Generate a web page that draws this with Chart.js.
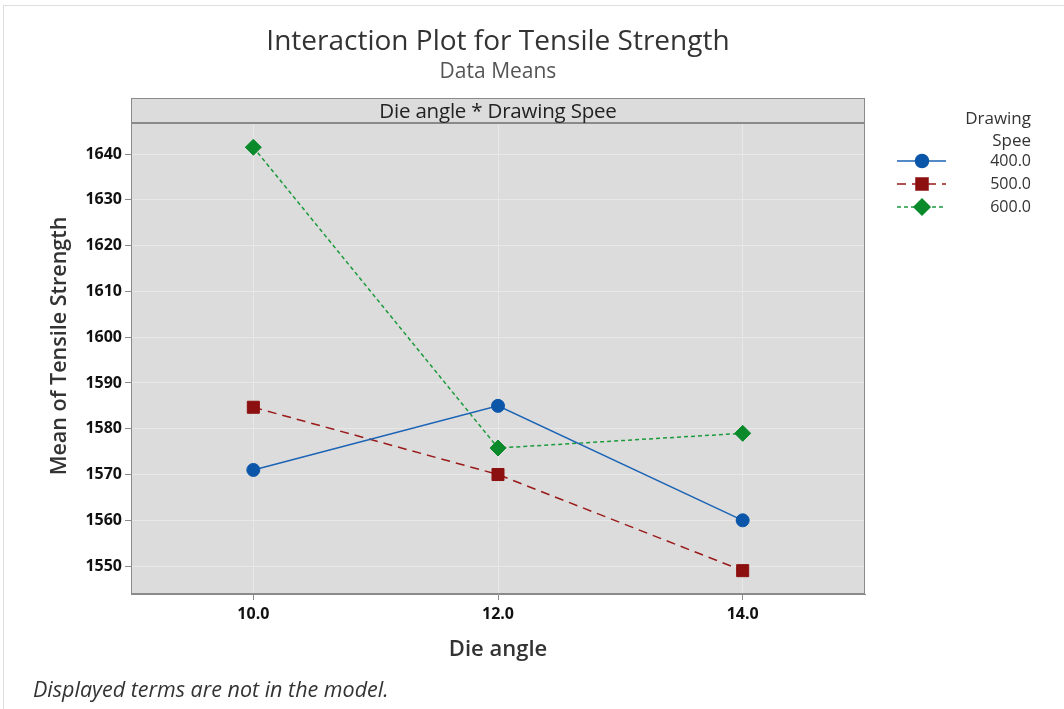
<!DOCTYPE html>
<html>
<head>
<meta charset="utf-8">
<script src="https://cdn.jsdelivr.net/npm/chart.js@4/dist/chart.umd.min.js"></script>
<style>
    body { margin: 0; background: #fff; }
    #wrap { position: relative; width: 1064px; height: 709px; font-family: 'Open Sans', sans-serif; color: #333; }
    #frame { position: absolute; left: 3px; top: 5px; width: 1060px; height: 703px; border-left: 1px solid #ddd; border-top: 1px solid #ddd; }
    #title { position: absolute; left: 131px; width: 734px; top: 20px; text-align: center; font-size: 28px; line-height: 38px; }
    #subtitle { position: absolute; left: 131px; width: 734px; top: 56px; text-align: center; font-size: 21px; line-height: 28px; color: #555; }
    #strip { position: absolute; left: 131px; width: 734px; top: 98px; text-align: center; font-size: 20.5px; line-height: 25px; color: #222; letter-spacing: -0.2px; }
    #ytitle { position: absolute; left: 58px; top: 346px; width: 400px; margin-left: -200px; margin-top: -15px; line-height: 30px;
              text-align: center; font-size: 21.5px; font-weight: 600; transform: rotate(-90deg); }
    #footer { position: absolute; left: 33px; top: 675px; font-size: 21.5px; line-height: 28px; font-style: italic; }
    canvas { position: absolute; left: 0; top: 0; }
</style>
</head>
<body>
<div id="wrap">
    <div id="frame"></div>
    <canvas id="chart" width="1064" height="709"></canvas>
    <div id="title">Interaction Plot for Tensile Strength</div>
    <div id="subtitle">Data Means</div>
    <div id="strip">Die angle * Drawing Spee</div>
    <div id="ytitle">Mean of Tensile Strength</div>
    <div id="footer">Displayed terms are not in the model.</div>
</div>
<script>
// --- Data ---
const dieAngles = [10, 12, 14];
const speedLabels = ['400.0', '500.0', '600.0'];
const speed400 = [1571, 1585, 1560];
const speed500 = [1584.7, 1570, 1549];
const speed600 = [1641.5, 1575.8, 1579];
const yTicks = [1550, 1560, 1570, 1580, 1590, 1600, 1610, 1620, 1630, 1640];
const xTicks = [10, 12, 14];

const toPoints = vals => dieAngles.map((x, i) => ({ x: x, y: vals[i] }));

const series = [
    { values: speed400, color: '#1a63b5', marker: '#0b56a8', style: 'circle', radius: 6.5, dash: [] },
    { values: speed500, color: '#9a1a1a', marker: '#8c1010', style: 'rect', radius: 8.5, dash: [9, 6] },
    { values: speed600, color: '#1c9a3c', marker: '#0a8a2a', style: 'rectRot', radius: 8, dash: [4, 3] }
];

// --- Background, strip box and legend ---
const panelPlugin = {
    id: 'panel',
    beforeDraw(chart) {
        const { ctx, chartArea: a } = chart;
        ctx.save();
        ctx.fillStyle = '#dcdcdc';
        ctx.fillRect(a.left, a.top, a.right - a.left, a.bottom - a.top);
        ctx.fillRect(a.left, a.top - 25, a.right - a.left, 25);
        ctx.strokeStyle = '#8a8a8a';
        ctx.lineWidth = 1;
        ctx.strokeRect(a.left + 0.5, a.top - 24.5, a.right - a.left - 1, 24);
        ctx.restore();
    },
    beforeDatasetsDraw(chart) {
        const { ctx, chartArea: a } = chart;
        ctx.save();
        ctx.strokeStyle = '#8a8a8a';
        ctx.lineWidth = 1;
        ctx.strokeRect(a.left + 0.5, a.top + 0.5, a.right - a.left - 1, a.bottom - a.top - 1);
        ctx.restore();
    },
    afterDraw(chart) {
        const { ctx } = chart;
        ctx.save();
        ctx.font = '17px "Open Sans"';
        ctx.fillStyle = '#333';
        ctx.textAlign = 'right';
        ctx.textBaseline = 'middle';
        ctx.fillText('Drawing', 1031, 119);
        ctx.fillText('Spee', 1031, 141);
        ctx.font = '16px "Open Sans"';
        chart.data.datasets.forEach((ds, i) => {
            const y = 161 + i * 23;
            ctx.strokeStyle = ds.borderColor;
            ctx.lineWidth = 1.5;
            ctx.setLineDash(ds.borderDash);
            ctx.beginPath();
            ctx.moveTo(897, y);
            ctx.lineTo(946, y);
            ctx.stroke();
            ctx.setLineDash([]);
            ctx.fillStyle = ds.pointBackgroundColor;
            ctx.strokeStyle = ds.pointBorderColor;
            Chart.helpers.drawPoint(ctx, { pointStyle: ds.pointStyle, radius: ds.pointRadius, rotation: 0, borderWidth: 1 }, 922, y);
            ctx.fillStyle = '#333';
            ctx.fillText(ds.label, 1031, y);
        });
        ctx.restore();
    }
};

new Chart(document.getElementById('chart'), {
    type: 'line',
    data: {
        datasets: series.map((s, i) => ({
            label: speedLabels[i],
            data: toPoints(s.values),
            borderColor: s.color,
            borderWidth: 1.5,
            borderDash: s.dash,
            pointStyle: s.style,
            pointRadius: s.radius,
            pointBackgroundColor: s.marker,
            pointBorderColor: s.marker,
            pointBorderWidth: 1,
            fill: false,
            tension: 0
        }))
    },
    options: {
        responsive: false,
        animation: false,
        layout: { padding: { top: 123, right: 199, left: 0, bottom: 40 } },
        plugins: { legend: { display: false }, tooltip: { enabled: false } },
        scales: {
            x: {
                type: 'linear',
                min: 9,
                max: 15,
                afterBuildTicks: s => { s.ticks = xTicks.map(v => ({ value: v })); },
                afterFit: s => { s.height = 75; },
                grid: { color: '#e8e8e8', tickColor: '#8a8a8a', tickLength: 6 },
                border: { color: '#8a8a8a' },
                ticks: {
                    padding: 5,
                    color: '#111',
                    font: { family: 'Open Sans', size: 16, weight: '700' },
                    callback: v => v.toFixed(1)
                },
                title: {
                    display: true,
                    text: 'Die angle',
                    color: '#333',
                    font: { family: 'Open Sans', size: 22, weight: '600' },
                    padding: { top: 0, bottom: 6 }
                }
            },
            y: {
                min: 1543.9,
                max: 1646.8,
                afterBuildTicks: s => { s.ticks = yTicks.map(v => ({ value: v })); },
                afterFit: s => { s.width = 131; },
                grid: { color: '#e8e8e8', tickColor: '#8a8a8a', tickLength: 6 },
                border: { color: '#8a8a8a' },
                ticks: {
                    padding: 3,
                    color: '#111',
                    font: { family: 'Open Sans', size: 16, weight: '700' },
                    callback: v => String(v)
                }
            }
        }
    },
    plugins: [panelPlugin]
});
</script>
</body>
</html>
